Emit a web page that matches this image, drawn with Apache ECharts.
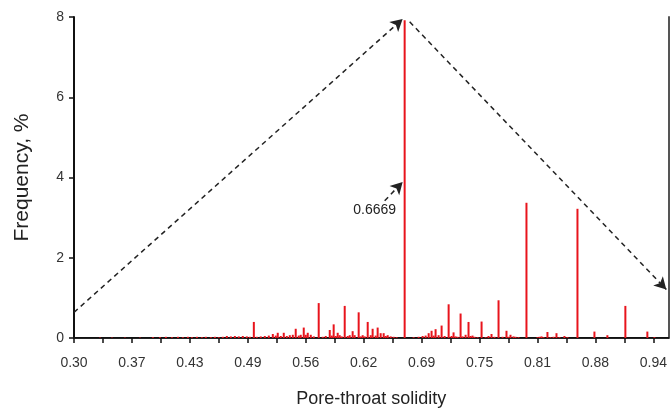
<!DOCTYPE html>
<html>
<head>
<meta charset="utf-8">
<script src="https://cdn.jsdelivr.net/npm/echarts@6/dist/echarts.min.js"></script>
<style>html,body{margin:0;padding:0;background:#fff;}#c{width:670px;height:413px;}</style>
</head>
<body>
<div id="c"></div>
<script>
// Pore-throat solidity values (x) and frequency in % (y)
var solidity = [0.3330,0.3461,0.3603,0.3768,0.3910,0.3987,0.4052,0.4118,0.4184,0.4238,0.4293,0.4337,0.4392,0.4446,0.4490,0.4545,0.4589,0.4632,0.4676,0.4720,0.4764,0.4808,0.4851,0.4895,0.4939,0.4972,
0.5016,0.5048,0.5092,0.5136,0.5180,0.5224,0.5256,0.5278,0.5311,0.5344,0.5377,0.5410,0.5443,0.5475,0.5508,0.5530,0.5563,0.5585,0.5607,0.5640,0.5673,0.5727,0.5771,0.5804,0.5848,0.5870,0.5891,0.5913,0.5935,0.5957,0.5979,
0.6012,0.6045,0.6067,0.6099,0.6121,0.6165,0.6187,0.6209,0.6231,0.6264,0.6297,0.6318,0.6351,0.6373,0.6406,0.6439,0.6461,0.6483,0.6516,0.6548,0.6581,0.6669,
0.6767,0.6822,0.6866,0.6899,0.6932,0.6964,0.6986,0.7008,0.7041,0.7074,0.7107,0.7151,0.7183,0.7205,0.7227,0.7249,0.7282,0.7304,0.7337,0.7369,0.7391,0.7413,0.7435,0.7468,0.7512,0.7556,0.7588,0.7621,0.7654,0.7698,0.7742,0.7785,0.7807,0.7829,0.7862,0.7884,0.7917,
0.8004,0.8125,0.8147,0.8169,0.8191,0.8234,0.8267,0.8300,0.8333,0.8366,0.8420,0.8453,0.8563,0.8749,0.8891,0.9088,0.9329,0.9406];
var frequency = [0.01,0.01,0.01,0.01,0.02,0.02,0.03,0.02,0.03,0.02,0.03,0.02,0.03,0.02,0.03,0.02,0.03,0.02,0.03,0.05,0.04,0.05,0.04,0.05,0.04,0.03,
0.40,0.03,0.04,0.05,0.06,0.10,0.06,0.13,0.05,0.13,0.05,0.07,0.08,0.23,0.06,0.08,0.26,0.08,0.13,0.08,0.04,0.87,0.03,0.05,0.20,0.06,0.34,0.05,0.13,0.07,0.04,
0.80,0.05,0.07,0.17,0.07,0.64,0.04,0.07,0.04,0.40,0.07,0.23,0.06,0.26,0.12,0.12,0.05,0.07,0.04,0.03,0.02,7.92,
0.02,0.03,0.05,0.06,0.12,0.18,0.06,0.22,0.07,0.31,0.05,0.84,0.05,0.14,0.04,0.03,0.61,0.04,0.08,0.40,0.05,0.06,0.03,0.02,0.41,0.02,0.05,0.10,0.03,0.94,0.03,0.18,0.03,0.08,0.04,0.03,0.02,
3.37,0.02,0.03,0.04,0.02,0.15,0.02,0.03,0.12,0.02,0.05,0.02,3.22,0.16,0.07,0.80,0.16,0.02];

// x-axis tick positions and their printed labels
var tickValues = [0.3045,0.3680,0.4315,0.4950,0.5585,0.6220,0.6855,0.7490,0.8125,0.8760,0.9395];
var tickLabels = ['0.30','0.37','0.43','0.49','0.56','0.62','0.69','0.75','0.81','0.88','0.94'];
var minorTickValues = [0.33625,0.39975,0.46325,0.52675,0.59025,0.65375,0.71725,0.78075,0.84425,0.90775];
var xMin = 0.3045, xMax = 0.9559;
var yTicks = [0,2,4,6,8];

// annotation arrows: [x0,y0,x1,y1]
var arrows = [
  [0.3045,0.64,0.6647,7.95],
  [0.6724,7.88,0.9537,1.21],
  [0.6450,3.42,0.6647,3.89]
];
var peakLabel = {text:'0.6669', x:0.6340, y:3.18};

var data = solidity.map(function(s,i){return [s,frequency[i]];});
var allTicks = tickValues.concat(minorTickValues).sort(function(a,b){return a-b;});

var chart = echarts.init(document.getElementById('c'), null, {renderer:'canvas'});
var font = 'Liberation Sans, Arial, sans-serif';
chart.setOption({
  animation:false,
  backgroundColor:'#fff',
  grid:{left:74,right:1,top:17,bottom:71,containLabel:false},
  xAxis:[{
    type:'value', min:xMin, max:xMax,
    name:'Pore-throat solidity', nameLocation:'middle', nameGap:52,
    nameTextStyle:{fontSize:18,color:'#222',fontFamily:font},
    axisLine:{show:true,onZero:false,lineStyle:{color:'#111',width:2}},
    axisTick:{show:true,length:5,customValues:allTicks,lineStyle:{color:'#111',width:1.5}},
    axisLabel:{customValues:tickValues,margin:18,fontSize:14,color:'#333',fontFamily:font,
      formatter:function(v){var best=0;for(var i=0;i<tickValues.length;i++){if(Math.abs(tickValues[i]-v)<Math.abs(tickValues[best]-v))best=i;}return tickLabels[best];}},
    splitLine:{show:false}
  },{
    type:'value', position:'top', min:xMin, max:xMax,
    axisLine:{show:true,lineStyle:{color:'#222',width:1}},
    axisTick:{show:false},axisLabel:{show:false},splitLine:{show:false}
  }],
  yAxis:[{
    type:'value', min:0, max:8, interval:2,
    name:'Frequency, %', nameLocation:'middle', nameGap:41,
    nameTextStyle:{fontSize:21,color:'#222',fontFamily:font},
    axisLine:{show:true,lineStyle:{color:'#111',width:2}},
    axisTick:{show:true,length:5,lineStyle:{color:'#111',width:1.5}},
    axisLabel:{margin:10,fontSize:14,color:'#333',fontFamily:font},
    splitLine:{show:false}
  },{
    type:'value', position:'right', min:0, max:8,
    axisLine:{show:true,lineStyle:{color:'#555',width:2}},
    axisTick:{show:false},axisLabel:{show:false},splitLine:{show:false}
  }],
  series:[{
    type:'bar', data:data, barWidth:2, xAxisIndex:0, yAxisIndex:0,
    itemStyle:{color:'#e8141c'},
    markLine:{
      silent:true, symbol:['none','arrow'], symbolSize:[10,12],
      label:{show:false},
      lineStyle:{type:[5,4],color:'#222',width:1.5},
      data:arrows.map(function(a){return [{coord:[a[0],a[1]]},{coord:[a[2],a[3]]}];})
    },
    markPoint:{
      silent:true, symbol:'circle', symbolSize:0,
      data:[{coord:[peakLabel.x,peakLabel.y],label:{show:true,formatter:peakLabel.text,position:'inside',fontSize:14,color:'#222',fontFamily:font}}]
    }
  }]
});
</script>
</body>
</html>
